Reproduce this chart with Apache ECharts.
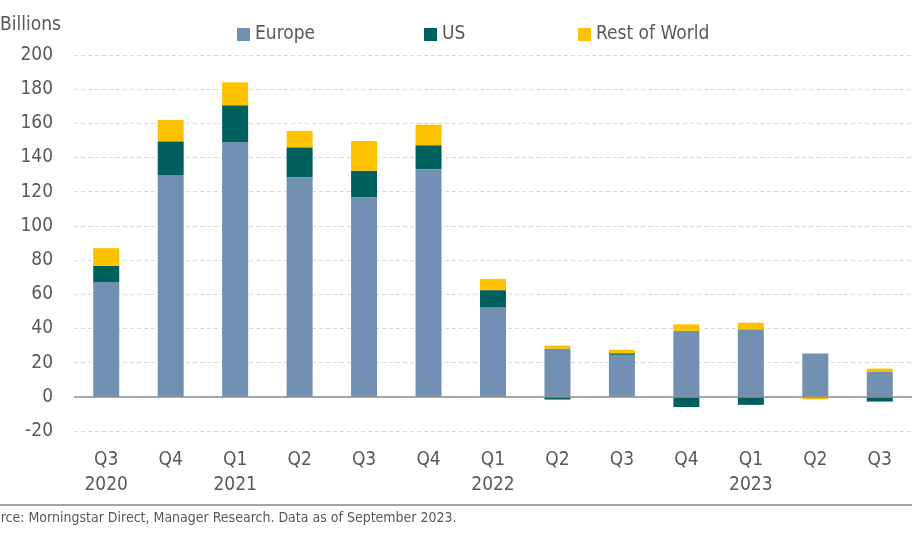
<!DOCTYPE html>
<html>
<head>
<meta charset="utf-8">
<script src="https://cdn.jsdelivr.net/npm/echarts@6/dist/echarts.min.js"></script>
<style>
html,body{margin:0;padding:0;background:#fff;}
#c{width:912px;height:535px;}
</style>
</head>
<body>
<div id="c"></div>
<script>
const categories = ['Q3\n2020','Q4','Q1\n2021','Q2','Q3','Q4','Q1\n2022','Q2','Q3','Q4','Q1\n2023','Q2','Q3'];
const europe = [67, 129.5, 149, 128.5, 116.8, 133.2, 52.5, 28.2, 24.6, 38.6, 39.5, 25.4, 14.9];
const us = [9.6, 20, 21.6, 17.5, 15.5, 14, 9.9, -1.6, 0.9, -6, -4.7, 0, -2.8];
const rest = [10.4, 12.5, 13.4, 9.6, 17.4, 12, 6.6, 1.8, 2, 3.8, 3.9, -1.5, 1.6];
const seriesNames = ['Europe', 'US', 'Rest of World'];
const yTicks = {min: -20, max: 200, interval: 20};

const FONT = '"DejaVu Sans Condensed", "DejaVu Sans", sans-serif';
const GRAY = '#595959';
const legendLefts = [232, 419, 573];
const legendBase = {
  top: 20, itemWidth: 13, itemHeight: 13, itemGap: 10, icon: 'rect',
  textStyle: {fontFamily: FONT, fontSize: 19, color: GRAY, padding: [0, 0, 0, 0]}
};
const chart = echarts.init(document.getElementById('c'));
chart.setOption({
  animation: false,
  textStyle: {fontFamily: FONT},
  legend: seriesNames.map((n, i) => Object.assign({}, legendBase, {left: legendLefts[i], data: [n]})),
  grid: {left: 74, right: -5, top: 55, bottom: 104, containLabel: false},
  xAxis: {
    type: 'category',
    data: categories,
    axisLine: {show: false},
    axisTick: {show: false},
    axisLabel: {fontFamily: FONT, fontSize: 19, color: GRAY, margin: 17, lineHeight: 25}
  },
  yAxis: {
    type: 'value',
    min: yTicks.min, max: yTicks.max, interval: yTicks.interval,
    axisLine: {show: false},
    axisTick: {show: false},
    axisLabel: {fontFamily: FONT, fontSize: 19, color: GRAY, margin: 21},
    splitLine: {lineStyle: {color: '#d9d9d9', type: [4, 3], width: 1}}
  },
  series: [
    {
      name: seriesNames[0], type: 'bar', stack: 'total', barWidth: 26,
      itemStyle: {color: '#7290b2'},
      data: europe,
      markLine: {
        silent: true, symbol: 'none', label: {show: false},
        lineStyle: {color: '#8c8c8c', type: 'solid', width: 1.5},
        data: [{yAxis: 0}]
      }
    },
    {name: seriesNames[1], type: 'bar', stack: 'total', barWidth: 26, itemStyle: {color: '#00605d'}, data: us},
    {name: seriesNames[2], type: 'bar', stack: 'total', barWidth: 26, itemStyle: {color: '#fbc200'}, data: rest}
  ],
  graphic: [
    {type: 'text', left: 0, top: 16, style: {text: 'Billions', fontFamily: FONT, fontSize: 19, fill: GRAY}},
    {type: 'rect', shape: {x: 0, y: 504, width: 912, height: 2}, style: {fill: '#a6a6a6'}},
    {type: 'text', left: -23, top: 511, style: {text: 'Source: Morningstar Direct, Manager Research. Data as of September 2023.', fontFamily: FONT, fontSize: 14, fill: GRAY}}
  ]
});
</script>
</body>
</html>
